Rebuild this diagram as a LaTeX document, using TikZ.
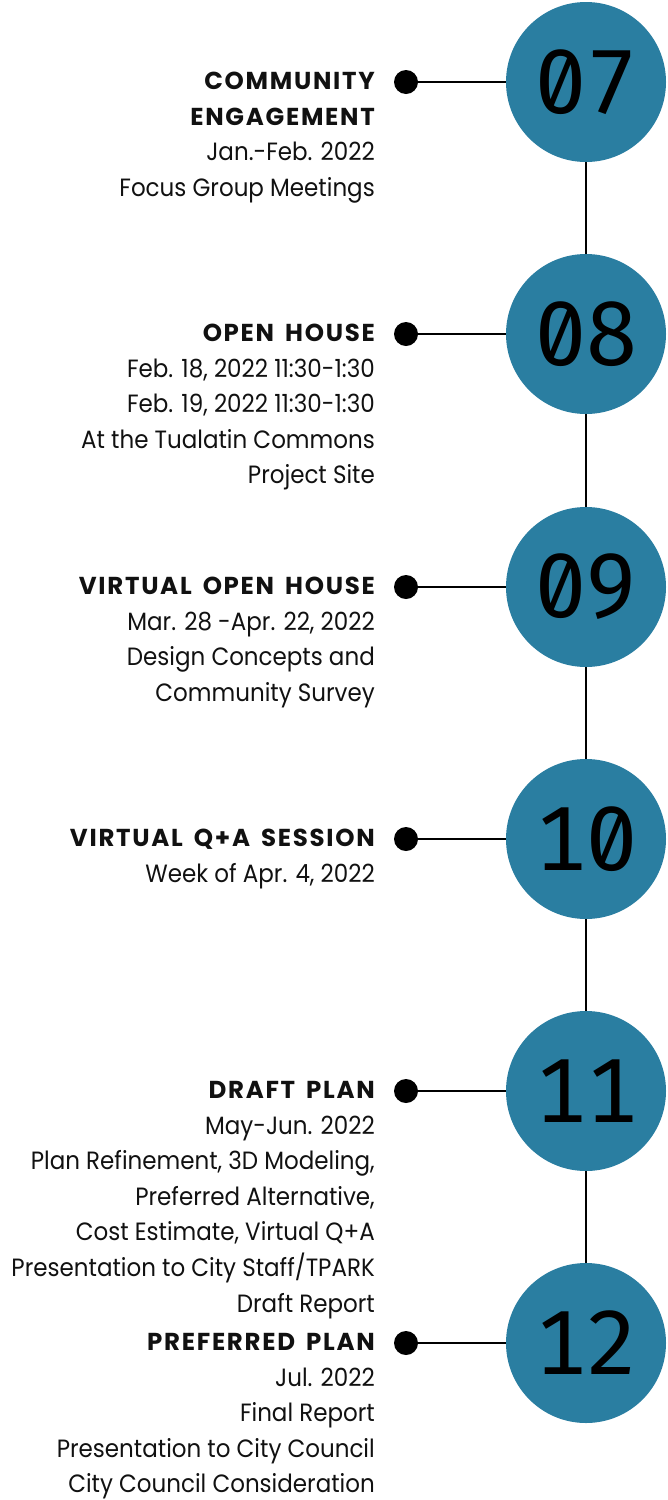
\documentclass[tikz,border=0pt]{standalone}
\usepackage{fontspec}
\setmainfont{Poppins}[FakeStretch=0.92]
\newfontfamily\titlefam{Poppins}[LetterSpace=7, WordSpace=1.6]
\newfontfamily\numfam{Fira Sans}[Numbers=Monospaced, RawFeature=+zero]
\definecolor{tealc}{RGB}{42,126,161}
\definecolor{ink}{RGB}{17,17,17}
\newcommand\tl[5]{\node[#4] (#1) at (375,{#2+7.5+35.6*#3}) {#5};}
\begin{document}
\begin{tikzpicture}[x=1pt,y=-1pt,
  numcirc/.style={circle, fill=tealc, minimum size=160pt, inner sep=0pt, font=\numfam\fontsize{91}{91}\selectfont, text=black},
  dotnode/.style={circle, fill=black, minimum size=24pt, inner sep=0pt},
  ttl/.style={anchor=base east, inner sep=0pt, font=\titlefam\bfseries\fontsize{24.5}{24.5}\selectfont, text=ink},
  bdy/.style={anchor=base east, inner sep=0pt, font=\fontsize{25}{25}\selectfont, text=ink},
  conn/.style={line width=2pt, draw=black}]
\useasboundingbox (0,0) rectangle (667,1500);
% circles
\node[numcirc] (c7) at (586,82) {07};
\node[numcirc] (c8) at (586,334) {08};
\node[numcirc] (c9) at (586,587) {09};
\node[numcirc] (c10) at (586,839) {10};
\node[numcirc] (c11) at (586,1091) {11};
\node[numcirc] (c12) at (586,1343) {12};
% vertical line
\draw[conn] (c7) -- (c8);
\draw[conn] (c8) -- (c9);
\draw[conn] (c9) -- (c10);
\draw[conn] (c10) -- (c11);
\draw[conn] (c11) -- (c12);
% dots
\node[dotnode] (d7) at (406,82) {};
\node[dotnode] (d8) at (406,334) {};
\node[dotnode] (d9) at (406,587) {};
\node[dotnode] (d10) at (406,839) {};
\node[dotnode] (d11) at (406,1091) {};
\node[dotnode] (d12) at (406,1343) {};
\draw[conn] (d7) -- (c7);
\draw[conn] (d8) -- (c8);
\draw[conn] (d9) -- (c9);
\draw[conn] (d10) -- (c10);
\draw[conn] (d11) -- (c11);
\draw[conn] (d12) -- (c12);
% texts 07
\tl{t7a}{82}{0}{ttl}{COMMUNITY}
\tl{t7b}{82}{1}{ttl}{ENGAGEMENT}
\tl{t7c}{82}{2}{bdy}{Jan.-Feb. 2022}
\tl{t7d}{82}{3}{bdy}{Focus Group Meetings}
% 08
\tl{t8a}{334}{0}{ttl}{OPEN HOUSE}
\tl{t8b}{334}{1}{bdy}{Feb. 18, 2022 11:30-1:30}
\tl{t8c}{334}{2}{bdy}{Feb. 19, 2022 11:30-1:30}
\tl{t8d}{334}{3}{bdy}{At the Tualatin Commons}
\tl{t8e}{334}{4}{bdy}{Project Site}
% 09
\tl{t9a}{587}{0}{ttl}{VIRTUAL OPEN HOUSE}
\tl{t9b}{587}{1}{bdy}{Mar. 28 -Apr. 22, 2022}
\tl{t9c}{587}{2}{bdy}{Design Concepts and}
\tl{t9d}{587}{3}{bdy}{Community Survey}
% 10
\tl{t10a}{839}{0}{ttl}{VIRTUAL Q+A SESSION}
\tl{t10b}{839}{1}{bdy}{Week of Apr. 4, 2022}
% 11
\tl{t11a}{1091}{0}{ttl}{DRAFT PLAN}
\tl{t11b}{1091}{1}{bdy}{May-Jun. 2022}
\tl{t11c}{1091}{2}{bdy}{Plan Refinement, 3D Modeling,}
\tl{t11d}{1091}{3}{bdy}{Preferred Alternative,}
\tl{t11e}{1091}{4}{bdy}{Cost Estimate, Virtual Q+A}
\tl{t11f}{1091}{5}{bdy}{Presentation to City Staff/TPARK}
\tl{t11g}{1091}{6}{bdy}{Draft Report}
% 12
\tl{t12a}{1343}{0}{ttl}{PREFERRED PLAN}
\tl{t12b}{1343}{1}{bdy}{Jul. 2022}
\tl{t12c}{1343}{2}{bdy}{Final Report}
\tl{t12d}{1343}{3}{bdy}{Presentation to City Council}
\tl{t12e}{1343}{4}{bdy}{City Council Consideration}
\end{tikzpicture}
\end{document}
